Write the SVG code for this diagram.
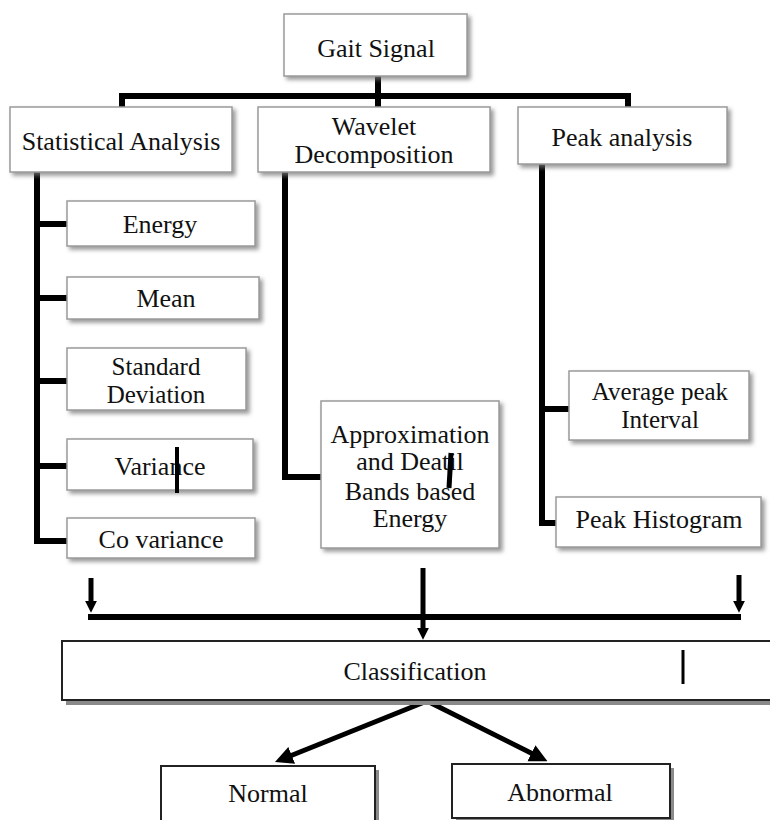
<svg xmlns="http://www.w3.org/2000/svg" width="770" height="820" viewBox="0 0 770 820">
<defs>
<filter id="sh" x="-10%" y="-10%" width="130%" height="140%">
<feDropShadow dx="3" dy="3" stdDeviation="2" flood-color="#777" flood-opacity="0.75"/>
</filter>
<marker id="ah" viewBox="0 0 10 10" refX="1" refY="5" markerWidth="12" markerHeight="16" markerUnits="userSpaceOnUse" orient="auto">
<path d="M0,0 L10,5 L0,10 z" fill="#000"/>
</marker>
<marker id="ahb" viewBox="0 0 10 10" refX="1" refY="5" markerWidth="18" markerHeight="20" markerUnits="userSpaceOnUse" orient="auto">
<path d="M0,0 L10,5 L0,10 z" fill="#000"/>
</marker>
</defs>
<style>
.box{fill:#fff;stroke:#9a9a9a;stroke-width:1.5;filter:url(#sh)}
.bbox{fill:#fff;stroke:#222;stroke-width:2}
.hs{fill:#8a8a8a}
text{font-family:"Liberation Serif","Times New Roman",serif;font-size:26px;fill:#111;text-anchor:middle}
.sm{font-size:25px}
.ln{fill:none;stroke:#000;stroke-width:6;stroke-linejoin:miter;stroke-linecap:butt}
.ar{fill:none;stroke:#000;stroke-width:5}
.bar{stroke:#000;fill:none}
</style>
<rect width="770" height="820" fill="#fff"/>

<g id="connectors">
<path class="ln" d="M378,76 V107"/>
<path class="ln" d="M122,107 V96 H628 V107"/>
<path class="ln" d="M37,172 V541 H67"/>
<path class="ln" d="M37,224 H67 M37,298 H67 M37,381 H67 M37,466 H67"/>
<path class="ln" d="M285,172 V477 H321"/>
<path class="ln" d="M542,164 V523 H556"/>
<path class="ln" d="M542,409 H569"/>
<path class="ar" d="M91,578 V602" marker-end="url(#ah)"/>
<path class="ar" d="M739,575 V602" marker-end="url(#ah)"/>
<path class="ln" d="M88,617 H741"/>
<path class="ar" d="M423,568 V629" marker-end="url(#ah)"/>
<path class="ar" d="M427,701 L290,756" marker-end="url(#ahb)"/>
<path class="ar" d="M427,701 L533,754" marker-end="url(#ahb)"/>
</g>

<g id="gait-signal">
<rect class="box" x="284" y="14" width="183" height="62"/>
<text x="376" y="57">Gait Signal</text>
</g>
<g id="statistical-analysis">
<rect class="box" x="10" y="107" width="222" height="65"/>
<text x="121" y="150">Statistical Analysis</text>
</g>
<g id="wavelet-decomposition">
<rect class="box" x="258" y="107" width="232" height="65"/>
<text x="374" y="135">Wavelet</text>
<text x="374" y="163">Decomposition</text>
</g>
<g id="peak-analysis">
<rect class="box" x="518" y="107" width="209" height="57"/>
<text x="622" y="146">Peak analysis</text>
</g>
<g id="energy">
<rect class="box" x="67" y="201" width="188" height="45"/>
<text x="160" y="233">Energy</text>
</g>
<g id="mean">
<rect class="box" x="67" y="277" width="192" height="42"/>
<text x="166" y="307">Mean</text>
</g>
<g id="standard-deviation">
<rect class="box" x="67" y="348" width="179" height="62"/>
<text class="sm" x="156" y="375">Standard</text>
<text class="sm" x="156" y="403">Deviation</text>
</g>
<g id="variance">
<rect class="box" x="67" y="439" width="186" height="51"/>
<text x="160" y="475">Variance</text>
<line class="bar" x1="177" y1="447" x2="177" y2="493" stroke-width="4"/>
</g>
<g id="co-variance">
<rect class="box" x="67" y="518" width="188" height="40"/>
<text x="161" y="548">Co variance</text>
</g>
<g id="approximation">
<rect class="box" x="321" y="401" width="178" height="147"/>
<text x="410" y="443">Approximation</text>
<text x="410" y="470">and Deatil</text>
<text x="410" y="500">Bands based</text>
<text x="410" y="527">Energy</text>
<line class="bar" x1="451" y1="453" x2="449" y2="488" stroke-width="5"/>
</g>
<g id="average-peak-interval">
<rect class="box" x="569" y="371" width="180" height="69"/>
<text class="sm" x="660" y="400">Average peak</text>
<text class="sm" x="660" y="428">Interval</text>
</g>
<g id="peak-histogram">
<rect class="box" x="556" y="497" width="205" height="50"/>
<text x="659" y="528">Peak Histogram</text>
</g>
<g id="classification">
<rect class="hs" x="66" y="645" width="712" height="60"/>
<rect class="bbox" x="62" y="641" width="712" height="59"/>
<text x="415" y="680">Classification</text>
<line class="bar" x1="683" y1="650" x2="683" y2="684" stroke-width="3"/>
</g>
<g id="normal">
<rect class="hs" x="165" y="770" width="214" height="60"/>
<rect class="bbox" x="161" y="766" width="214" height="60"/>
<text x="268" y="802">Normal</text>
</g>
<g id="abnormal">
<rect class="hs" x="456" y="768" width="218" height="54"/>
<rect class="bbox" x="452" y="764" width="218" height="54"/>
<text x="560" y="801">Abnormal</text>
</g>
</svg>
